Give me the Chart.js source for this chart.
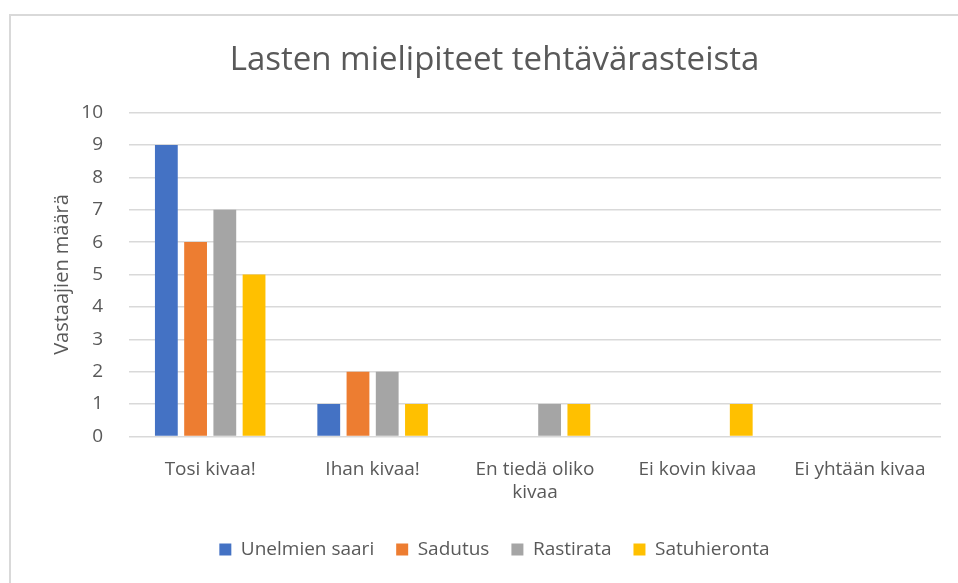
<!DOCTYPE html>
<html>
<head>
<meta charset="utf-8">
<script src="https://cdn.jsdelivr.net/npm/chart.js@4.4.0/dist/chart.umd.min.js"></script>
<style>
  body { margin: 0; background: #fff; }
  #frame { position: absolute; left: 9px; top: 14px; width: 949px; height: 569px;
           border-left: 2px solid #d9d9d9; border-top: 2px solid #d9d9d9; box-sizing: border-box; }
  #wrap { position: absolute; left: 0; top: 0; width: 958px; height: 583px; }
</style>
</head>
<body>
<div id="frame"></div>
<div id="wrap"><canvas id="myChart" width="958" height="583"></canvas></div>
<script>
// categories and series
var categories = ["Tosi kivaa!", "Ihan kivaa!", ["En tiedä oliko", "kivaa"], "Ei kovin kivaa", "Ei yhtään kivaa"];
var unelmienSaari = [9, 1, 0, 0, 0];
var sadutus = [6, 2, 0, 0, 0];
var rastirata = [7, 2, 1, 0, 0];
var satuhieronta = [5, 1, 1, 1, 0];
var yTicks = [0, 1, 2, 3, 4, 5, 6, 7, 8, 9, 10];

var font = "Open Sans, Lato, sans-serif";
var grey = "#595959";

var ctx = document.getElementById("myChart").getContext("2d");
var myChart = new Chart(ctx, {
  type: "bar",
  data: {
    labels: categories,
    datasets: [
      { label: "Unelmien saari", data: unelmienSaari, backgroundColor: "#4472c4" },
      { label: "Sadutus", data: sadutus, backgroundColor: "#ed7d31" },
      { label: "Rastirata", data: rastirata, backgroundColor: "#a5a5a5" },
      { label: "Satuhieronta", data: satuhieronta, backgroundColor: "#ffc000" }
    ]
  },
  options: {
    responsive: false,
    animation: false,
    datasets: { bar: { categoryPercentage: 0.72, barPercentage: 0.78 } },
    layout: { padding: { left: 48, right: 17, top: 41, bottom: 14 } },
    plugins: {
      title: {
        display: true,
        text: "Lasten mielipiteet tehtävärasteista",
        color: grey,
        font: { family: font, size: 33, weight: "normal" },
        padding: { top: 0, bottom: 32 }
      },
      legend: {
        position: "bottom",
        labels: {
          color: grey,
          font: { family: font, size: 19 },
          boxWidth: 12, boxHeight: 12, padding: 22
        }
      },
      tooltip: { enabled: false }
    },
    scales: {
      x: {
        grid: { display: false },
        border: { display: false },
        ticks: { color: grey, font: { family: font, size: 19 }, maxRotation: 0, padding: 14 }
      },
      y: {
        min: 0, max: 10,
        afterBuildTicks: function (axis) { axis.ticks = yTicks.map(function (v) { return { value: v }; }); },
        afterFit: function (axis) { axis.width = 81; },
        grid: { color: "#d9d9d9", lineWidth: 1.5, drawTicks: false },
        border: { display: false },
        ticks: { color: grey, font: { family: font, size: 19 }, padding: 26 },
        title: { display: true, text: "Vastaajien määrä", color: grey, font: { family: font, size: 20 }, padding: 2 }
      }
    }
  }
});
</script>
</body>
</html>
